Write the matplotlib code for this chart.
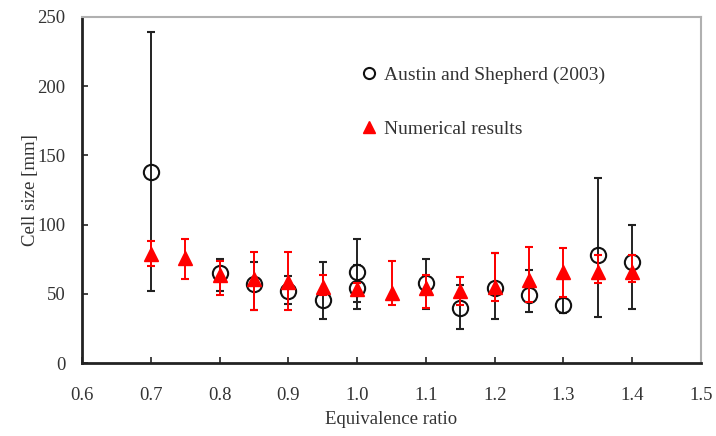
import matplotlib
matplotlib.use("Agg")
import matplotlib.pyplot as plt
from matplotlib.lines import Line2D
import numpy as np

# Experimental data (Austin and Shepherd 2003)
exp_x = [0.7, 0.8, 0.85, 0.9, 0.95, 1.0, 1.0, 1.1, 1.15, 1.2, 1.25, 1.3, 1.35, 1.4]
exp_y = [138, 65, 57, 52, 46, 66, 54, 58, 40, 54, 49.5, 42, 78, 73]
exp_lo = [52, 52, 38.5, 43, 32, 39, 44, 39, 24.5, 32, 37, 36, 33.5, 39]
exp_hi = [239, 75, 73, 63, 73, 90, 71, 75, 56.5, 79.5, 67, 47, 133.5, 100]

# Numerical results
num_x = [0.7, 0.75, 0.8, 0.85, 0.9, 0.95, 1.0, 1.05, 1.1, 1.15, 1.2, 1.25, 1.3, 1.35, 1.4]
num_y = [79, 76, 64, 61, 59, 55, 53.5, 51, 54, 52, 55, 60, 66, 66, 66]
num_lo = [70, 61, 49, 38.5, 38.5, 49, 49, 42, 40, 42, 45, 44, 48, 58, 59]
num_hi = [88, 90, 74, 80, 80, 64, 58, 74, 64, 62, 79.5, 84, 83, 78, 78]

x_ticks = [0.6, 0.7, 0.8, 0.9, 1.0, 1.1, 1.2, 1.3, 1.4, 1.5]
x_ticklabels = ["0.6", "0.7", "0.8", "0.9", "1.0", "1.1", "1.2", "1.3", "1.4", "1.5"]
y_ticks = [0, 50, 100, 150, 200, 250]

plt.rcParams['font.family'] = ['Liberation Serif', 'DejaVu Serif']
txt_color = '#333333'

fig = plt.figure(figsize=(7.16, 4.36), dpi=100)
ax = fig.add_axes([82/716, 1-363.3/436, (701-82)/716, (363.3-16.7)/436])

ey = np.array(exp_y); ex_err = [ey - np.array(exp_lo), np.array(exp_hi) - ey]
ny = np.array(num_y); nm_err = [ny - np.array(num_lo), np.array(num_hi) - ny]

ax.errorbar(exp_x, exp_y, yerr=ex_err, fmt='o', mfc='none', mec='#111111', mew=1.5,
            ms=11, ecolor='#222222', elinewidth=1.4, capsize=3, capthick=1.5,
            label='Austin and Shepherd (2003)', zorder=2)
ax.errorbar(num_x, num_y, yerr=nm_err, fmt='^', color='#ff0000', mec='#ff0000',
            ms=10, ecolor='#ff0000', elinewidth=1.4, capsize=3, capthick=1.5,
            label='Numerical results', zorder=3)

ax.set_xlim(0.6, 1.5)
ax.set_ylim(0, 250)
ax.set_xticks(x_ticks)
ax.set_xticklabels(x_ticklabels)
ax.set_yticks(y_ticks)
ax.tick_params(direction='in', length=4, width=1.2, labelsize=13.5, colors='#222222',
               labelcolor=txt_color)
ax.tick_params(axis='x', pad=17)
ax.tick_params(axis='y', pad=12)

for s in ['left', 'bottom']:
    ax.spines[s].set_color('#222222')
    ax.spines[s].set_linewidth(2)
for s in ['top', 'right']:
    ax.spines[s].set_color('#b0b0b0')
    ax.spines[s].set_linewidth(1.5)

ax.set_xlabel('Equivalence ratio', fontsize=13.5, color=txt_color, labelpad=5)
ax.set_ylabel('Cell size [mm]', fontsize=13.5, color=txt_color, labelpad=-1)

handles, labels = ax.get_legend_handles_labels()
h1 = Line2D([], [], ls='none', marker='o', mfc='none', mec='#111111', mew=1.5, ms=8)
h2 = Line2D([], [], ls='none', marker='^', color='#ff0000', ms=8)
fig.legend([h1, h2], labels, loc='upper left', bbox_to_anchor=(359/716, 1-66/436),
           frameon=False, fontsize=14, handlelength=1.0, handletextpad=0.3,
           labelspacing=1.9, borderpad=0, borderaxespad=0, labelcolor=txt_color)

fig.savefig('out.png', dpi=100)
